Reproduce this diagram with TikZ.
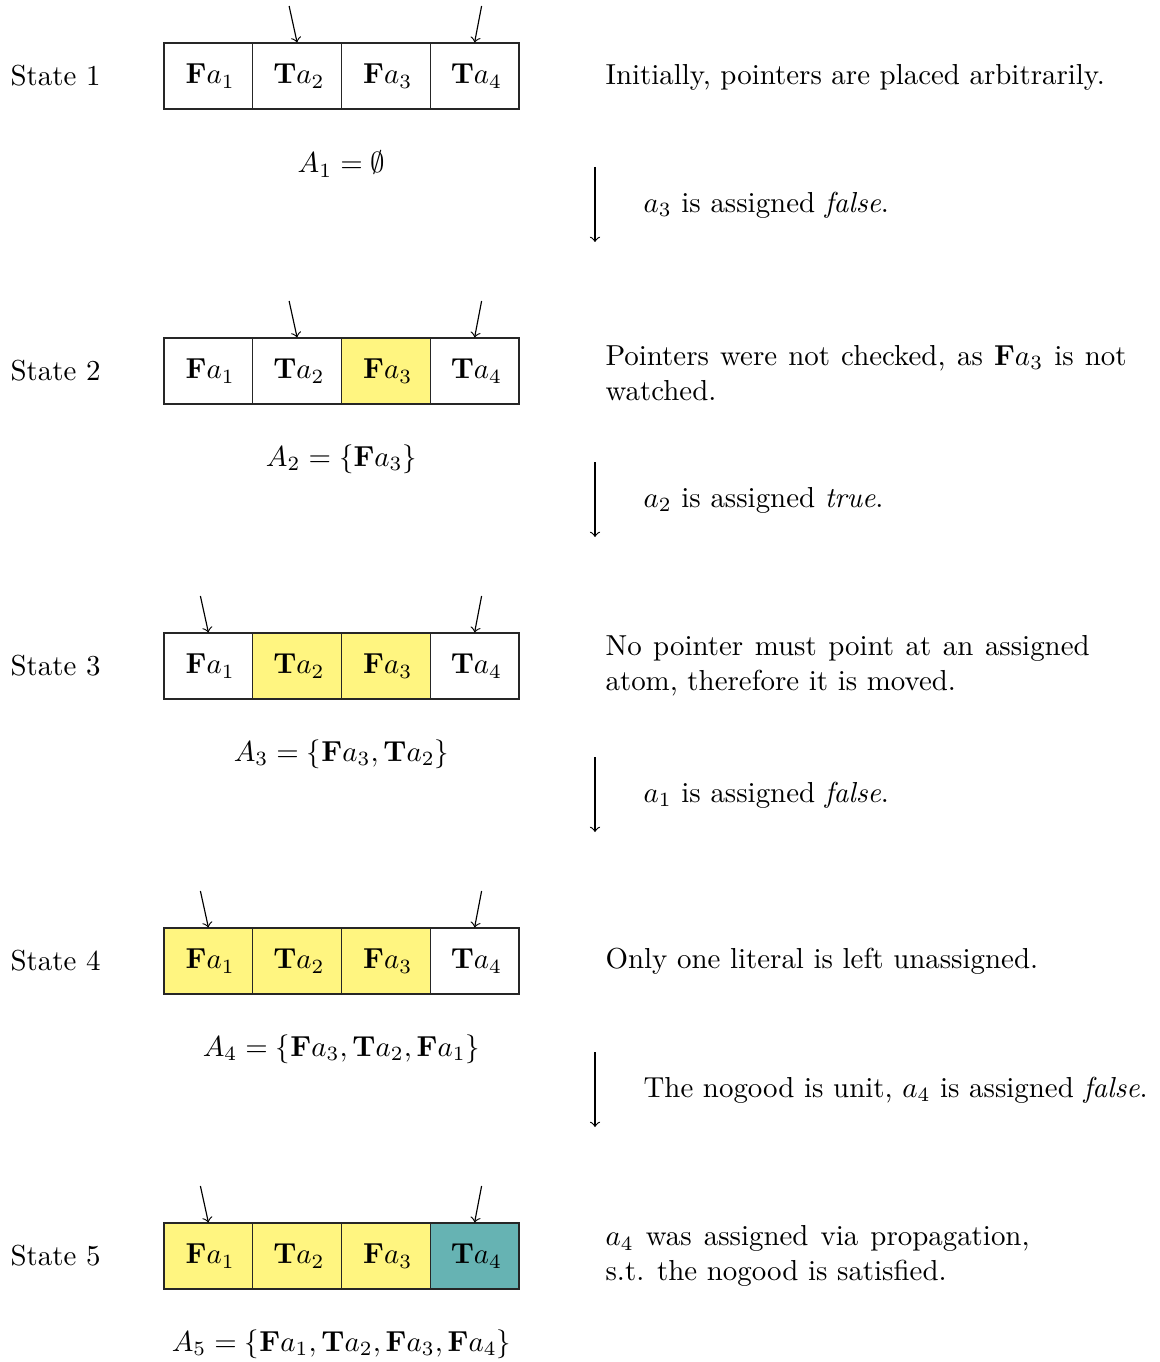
\documentclass[tikz,border=0pt]{standalone}
\usepackage{amsmath}
\usepackage{amssymb}
\definecolor{asgn}{RGB}{255,245,128}
\definecolor{prop}{RGB}{102,179,179}
\begin{document}
\begin{tikzpicture}[x=0.346pt,y=-0.346pt,
  cell/.style={draw=black!85,minimum width=30.7pt,minimum height=22.8pt,inner sep=0pt,anchor=center,execute at begin node={\hspace*{1.3pt}}},
  yel/.style={fill=asgn},
  tea/.style={fill=prop},
  lbl/.style={inner sep=0pt,anchor=west},
  desc/.style={inner sep=0pt,anchor=west,align=left},
  jdesc/.style={inner sep=0pt,anchor=west,align=justify,text width=#1},
  setlbl/.style={inner sep=0pt,anchor=center},
  ptr/.style={->,thin},
  trans/.style={->,thin}]
\useasboundingbox (0,0) rectangle (1160,1362);

% ---------- State 1 ----------
\node[lbl] (s1) at (10,76) {State 1};
\node[cell] (a11) at (208.4,76) {$\mathbf{F}a_1$};
\node[cell] (a12) at (297.1,76) {$\mathbf{T}a_2$};
\node[cell] (a13) at (385.9,76) {$\mathbf{F}a_3$};
\node[cell] (a14) at (474.6,76) {$\mathbf{T}a_4$};
\node[setlbl] (A1) at (341.5,164) {$A_1 = \emptyset$};
\node[desc] (d1) at (605,77) {Initially, pointers are placed arbitrarily.};
\coordinate (p12) at (289.1,6);
\coordinate (p14) at (481.6,6);
\draw[ptr] (p12) -- (a12.north);
\draw[ptr] (p14) -- (a14.north);
\coordinate (t1s) at (595,167);
\coordinate (t1e) at (595,242);
\draw[trans] (t1s) -- (t1e);
\node[lbl] (l1) at (643,205) {$a_3$ is assigned \textit{false}.};

% ---------- State 2 ----------
\node[lbl] (s2) at (10,371) {State 2};
\node[cell] (a21) at (208.4,371) {$\mathbf{F}a_1$};
\node[cell] (a22) at (297.1,371) {$\mathbf{T}a_2$};
\node[cell,yel] (a23) at (385.9,371) {$\mathbf{F}a_3$};
\node[cell] (a24) at (474.6,371) {$\mathbf{T}a_4$};
\node[setlbl] (A2) at (341.5,459) {$A_2 = \{\mathbf{F}a_3\}$};
\node[jdesc=180.3pt] (d2) at (605,373) {Pointers were not checked, as $\mathbf{F}a_3$ is not\linebreak watched.};
\coordinate (p22) at (289.1,301);
\coordinate (p24) at (481.6,301);
\draw[ptr] (p22) -- (a22.north);
\draw[ptr] (p24) -- (a24.north);
\coordinate (t2s) at (595,462);
\coordinate (t2e) at (595,537);
\draw[trans] (t2s) -- (t2e);
\node[lbl] (l2) at (643,500) {$a_2$ is assigned \textit{true}.};

% ---------- State 3 ----------
\node[lbl] (s3) at (10,666) {State 3};
\node[cell] (a31) at (208.4,666) {$\mathbf{F}a_1$};
\node[cell,yel] (a32) at (297.1,666) {$\mathbf{T}a_2$};
\node[cell,yel] (a33) at (385.9,666) {$\mathbf{F}a_3$};
\node[cell] (a34) at (474.6,666) {$\mathbf{T}a_4$};
\node[setlbl] (A3) at (341.5,754) {$A_3 = \{\mathbf{F}a_3, \mathbf{T}a_2\}$};
\node[jdesc=167.5pt] (d3) at (605,666) {No pointer must point at an assigned\linebreak atom, therefore it is moved.};
\coordinate (p31) at (200.4,596);
\coordinate (p34) at (481.6,596);
\draw[ptr] (p31) -- (a31.north);
\draw[ptr] (p34) -- (a34.north);
\coordinate (t3s) at (595,757);
\coordinate (t3e) at (595,832);
\draw[trans] (t3s) -- (t3e);
\node[lbl] (l3) at (643,795) {$a_1$ is assigned \textit{false}.};

% ---------- State 4 ----------
\node[lbl] (s4) at (10,961) {State 4};
\node[cell,yel] (a41) at (208.4,961) {$\mathbf{F}a_1$};
\node[cell,yel] (a42) at (297.1,961) {$\mathbf{T}a_2$};
\node[cell,yel] (a43) at (385.9,961) {$\mathbf{F}a_3$};
\node[cell] (a44) at (474.6,961) {$\mathbf{T}a_4$};
\node[setlbl] (A4) at (341.5,1049) {$A_4 = \{\mathbf{F}a_3, \mathbf{T}a_2, \mathbf{F}a_1\}$};
\node[desc] (d4) at (605,961) {Only one literal is left unassigned.};
\coordinate (p41) at (200.4,891);
\coordinate (p44) at (481.6,891);
\draw[ptr] (p41) -- (a41.north);
\draw[ptr] (p44) -- (a44.north);
\coordinate (t4s) at (595,1052);
\coordinate (t4e) at (595,1127);
\draw[trans] (t4s) -- (t4e);
\node[lbl] (l4) at (643,1090) {The nogood is unit, $a_4$ is assigned \textit{false}.};

% ---------- State 5 ----------
\node[lbl] (s5) at (10,1256) {State 5};
\node[cell,yel] (a51) at (208.4,1256) {$\mathbf{F}a_1$};
\node[cell,yel] (a52) at (297.1,1256) {$\mathbf{T}a_2$};
\node[cell,yel] (a53) at (385.9,1256) {$\mathbf{F}a_3$};
\node[cell,tea] (a54) at (474.6,1256) {$\mathbf{T}a_4$};
\node[setlbl] (A5) at (341.5,1344) {$A_5 = \{\mathbf{F}a_1, \mathbf{T}a_2, \mathbf{F}a_3, \mathbf{F}a_4\}$};
\node[jdesc=146.7pt] (d5) at (605,1256) {$a_4$ was assigned via propagation,\linebreak s.t. the nogood is satisfied.};
\coordinate (p51) at (200.4,1186);
\coordinate (p54) at (481.6,1186);
\draw[ptr] (p51) -- (a51.north);
\draw[ptr] (p54) -- (a54.north);
\end{tikzpicture}
\end{document}
